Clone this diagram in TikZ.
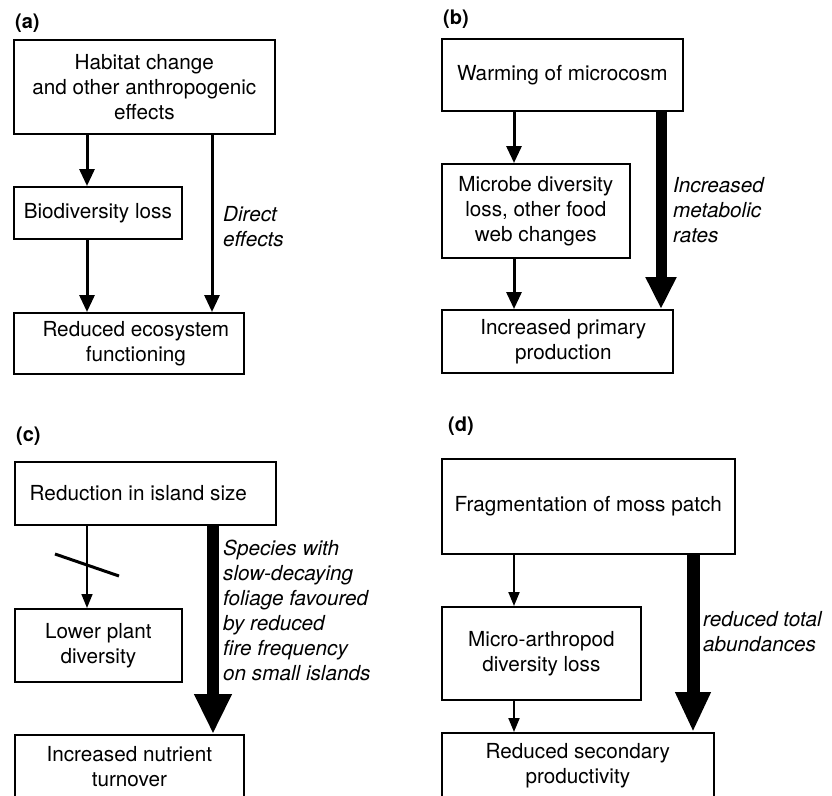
\documentclass[tikz,border=0pt]{standalone}
\usepackage{fontspec}
\setmainfont{TeX Gyre Heros}
\usetikzlibrary{arrows.meta}
\begin{document}
\begin{tikzpicture}[x=1pt,y=-1pt,
  box/.style={draw,line width=1.7pt,anchor=north west,align=center,inner sep=0pt,font=\fontsize{20.7}{25}\selectfont},
  lbl/.style={anchor=west,align=left,inner sep=0pt,font=\fontsize{20.7}{25}\selectfont\itshape},
  tag/.style={anchor=base west,inner sep=0pt,font=\fontsize{20}{24}\selectfont\bfseries},
  arrmid/.style={line width=3pt,-{Triangle[width=15pt,length=17pt]}},
  arrthin/.style={line width=1.6pt,-{Triangle[width=11pt,length=14pt]}},
  arrthick/.style={line width=#1,-{Triangle[width=33pt,length=39pt]}},
  arrthick/.default=12pt
]
\useasboundingbox (0,0) rectangle (832,795);

% ---------- (a)
\node[tag] (ta) at (15,28) {(a)};
\node[box,minimum width=261pt,minimum height=94pt] (A1) at (13,39) {Habitat change\\and other anthropogenic\\effects};
\node[box,minimum width=168pt,minimum height=52pt] (A2) at (13,186) {Biodiversity loss};
\node[box,minimum width=230pt,minimum height=61pt] (A3) at (13,312) {\hspace*{14pt}Reduced ecosystem\\\hspace*{14pt}functioning};
\coordinate (xa1) at (87,0);
\coordinate (xa2) at (212,0);
\draw[arrmid] (A1.south -| xa1) -- (A2.north -| xa1);
\draw[arrmid] (A2.south -| xa1) -- (A3.north -| xa1);
\draw[arrmid] (A1.south -| xa2) -- (A3.north -| xa2);
\node[lbl] (la) at (223,227) {Direct\\effects};

% ---------- (b)
\node[tag] (tb) at (443,24) {(b)};
\node[box,minimum width=241pt,minimum height=72pt] (B1) at (441,38) {Warming of microcosm};
\node[box,minimum width=188pt,minimum height=94pt] (B2) at (441,163) {Microbe diversity\\loss, other food\\web changes};
\node[box,minimum width=231pt,minimum height=63pt] (B3) at (441,309) {\hspace*{12pt}Increased primary\\\hspace*{12pt}production};
\coordinate (xb1) at (514,0);
\coordinate (xb2) at (661,0);
\draw[arrmid] (B1.south -| xb1) -- (B2.north -| xb1);
\draw[arrmid] (B2.south -| xb1) -- (B3.north -| xb1);
\draw[line width=11pt,-{Triangle[width=29pt,length=32pt]}] (B1.south -| xb2) -- (B3.north -| xb2);
\node[lbl] (lb) at (673,210) {Increased\\metabolic\\rates};

% ---------- (c)
\node[tag] (tc) at (16,441) {(c)};
\node[box,minimum width=261pt,minimum height=63pt] (C1) at (14,461) {Reduction in island size\hspace*{14pt}};
\node[box,minimum width=167pt,minimum height=73pt] (C2) at (14,608) {Lower plant\\diversity};
\node[box,minimum width=229pt,minimum height=64pt] (C3) at (14,734) {Increased nutrient\\turnover};
\coordinate (xc1) at (87,0);
\coordinate (xc2) at (213,0);
\draw[arrthin] (C1.south -| xc1) -- (C2.north -| xc1);
\draw[line width=3pt] (55,554) -- (119,576);
\draw[line width=12pt,-{Triangle[width=35pt,length=40pt]}] (C1.south -| xc2) -- (C3.north -| xc2);
\node[lbl] (lc) at (223,610.5) {Species with\\slow-decaying\\foliage favoured\\by reduced\\fire frequency\\on small islands};

% ---------- (d)
\node[tag] (td) at (448,431) {(d)};
\node[box,minimum width=293pt,minimum height=95pt] (D1) at (441,458) {Fragmentation of moss patch};
\node[box,minimum width=199pt,minimum height=93pt] (D2) at (441,606) {Micro-arthropod\\diversity loss};
\node[box,minimum width=272pt,minimum height=66pt] (D3) at (441,732) {Reduced secondary\\productivity};
\coordinate (xd1) at (514,0);
\coordinate (xd2) at (693,0);
\draw[arrthin,line width=2pt] (D1.south -| xd1) -- (D2.north -| xd1);
\draw[arrthin,line width=2pt] (D2.south -| xd1) -- (D3.north -| xd1);
\draw[line width=13pt,-{Triangle[width=33pt,length=40pt]}] (D1.south -| xd2) -- (D3.north -| xd2);
\node[lbl] (ld) at (703,631.5) {reduced total\\abundances};
\end{tikzpicture}
\end{document}
